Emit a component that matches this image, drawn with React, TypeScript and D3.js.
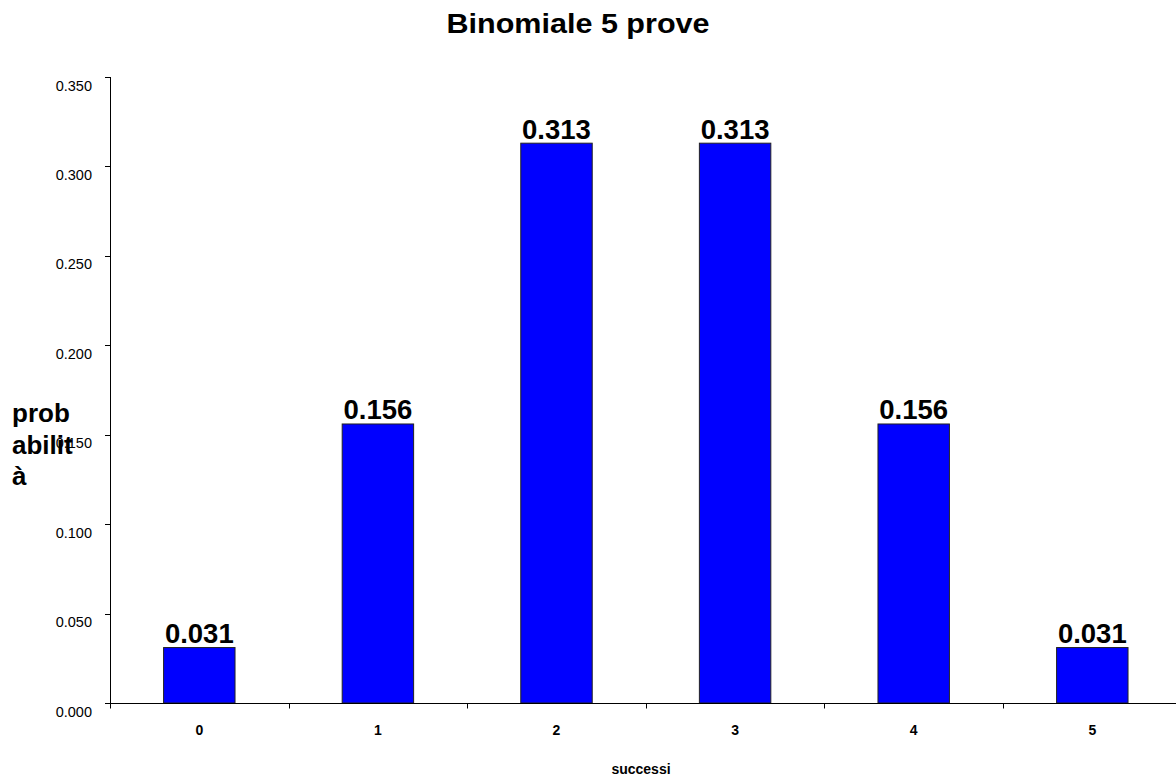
import React from "react";
import * as d3 from "d3";

// Binomial distribution, n = 5, p = 0.5
const categories: string[] = ["0", "1", "2", "3", "4", "5"];
const probabilities: number[] = [0.031, 0.156, 0.313, 0.313, 0.156, 0.031];
const yTicks: number[] = [0, 0.05, 0.1, 0.15, 0.2, 0.25, 0.3, 0.35];
const titleText = "Binomiale 5 prove";
const xAxisTitle = "successi";
const yAxisTitleLines: string[] = ["prob", "abilit", "à"];

const W = 1176;
const H = 776;
const FONT = "'Liberation Sans', Arial, sans-serif";

export default function App() {
  const x = d3
    .scaleBand<string>()
    .domain(categories)
    .range([110, 1181.6])
    .padding(0);
  const y = d3.scaleLinear().domain([0, 0.35]).range([703, 77]);
  const fmt = d3.format(".3f");
  const barW = x.bandwidth() * 0.4;
  const y0 = y(0);

  // band boundaries carry the x tick marks
  const boundaries = categories.map((c) => x(c) as number);

  return (
    <svg
      width={W}
      height={H}
      style={{ position: "absolute", left: 0, top: 0, background: "#fff" }}
      fontFamily={FONT}
    >
      <rect x={0} y={0} width={W} height={H} fill="#fff" />

      {/* title */}
      <text
        x={578}
        y={32.5}
        textAnchor="middle"
        fontSize={28}
        fontWeight="bold"
        fill="#000"
        textLength={263}
        lengthAdjust="spacingAndGlyphs"
      >
        {titleText}
      </text>

      {/* bars */}
      {categories.map((c, i) => {
        const cx = (x(c) as number) + x.bandwidth() / 2;
        return (
          <g key={c}>
            <rect
              x={cx - barW / 2}
              y={y(probabilities[i])}
              width={barW}
              height={y0 - y(probabilities[i])}
              fill="#0000ff"
              stroke="#222"
              strokeWidth={1}
            />
            <text
              x={cx}
              y={y(probabilities[i]) - 4.5}
              textAnchor="middle"
              fontSize={27.5}
              fontWeight="bold"
              fill="#000"
            >
              {fmt(probabilities[i])}
            </text>
          </g>
        );
      })}

      {/* y axis */}
      <line x1={110.5} x2={110.5} y1={y(0.35)} y2={y0} stroke="#000" />
      {yTicks.map((t) => (
        <g key={t}>
          <line
            x1={105}
            x2={110.5}
            y1={Math.round(y(t)) + 0.5}
            y2={Math.round(y(t)) + 0.5}
            stroke="#000"
          />
          <text
            x={92}
            y={y(t) + 13.5}
            textAnchor="end"
            fontSize={14.5}
            fill="#000"
          >
            {fmt(t)}
          </text>
        </g>
      ))}

      {/* x axis */}
      <line x1={110} x2={W} y1={Math.round(y0) + 0.5} y2={Math.round(y0) + 0.5} stroke="#000" />
      {boundaries.map((b, i) => (
        <line
          key={i}
          x1={Math.round(b) + 0.5}
          x2={Math.round(b) + 0.5}
          y1={y0}
          y2={y0 + 5.5}
          stroke="#000"
        />
      ))}
      {categories.map((c) => (
        <text
          key={c}
          x={(x(c) as number) + x.bandwidth() / 2}
          y={735}
          textAnchor="middle"
          fontSize={14}
          fontWeight="bold"
          fill="#000"
        >
          {c}
        </text>
      ))}

      {/* axis titles */}
      <text x={641} y={774} textAnchor="middle" fontSize={14} fontWeight="bold" fill="#000">
        {xAxisTitle}
      </text>
      {yAxisTitleLines.map((line, i) => (
        <text
          key={i}
          x={12}
          y={422 + i * 31.7}
          fontSize={26}
          fontWeight="bold"
          fill="#000"
        >
          {line}
        </text>
      ))}
    </svg>
  );
}
